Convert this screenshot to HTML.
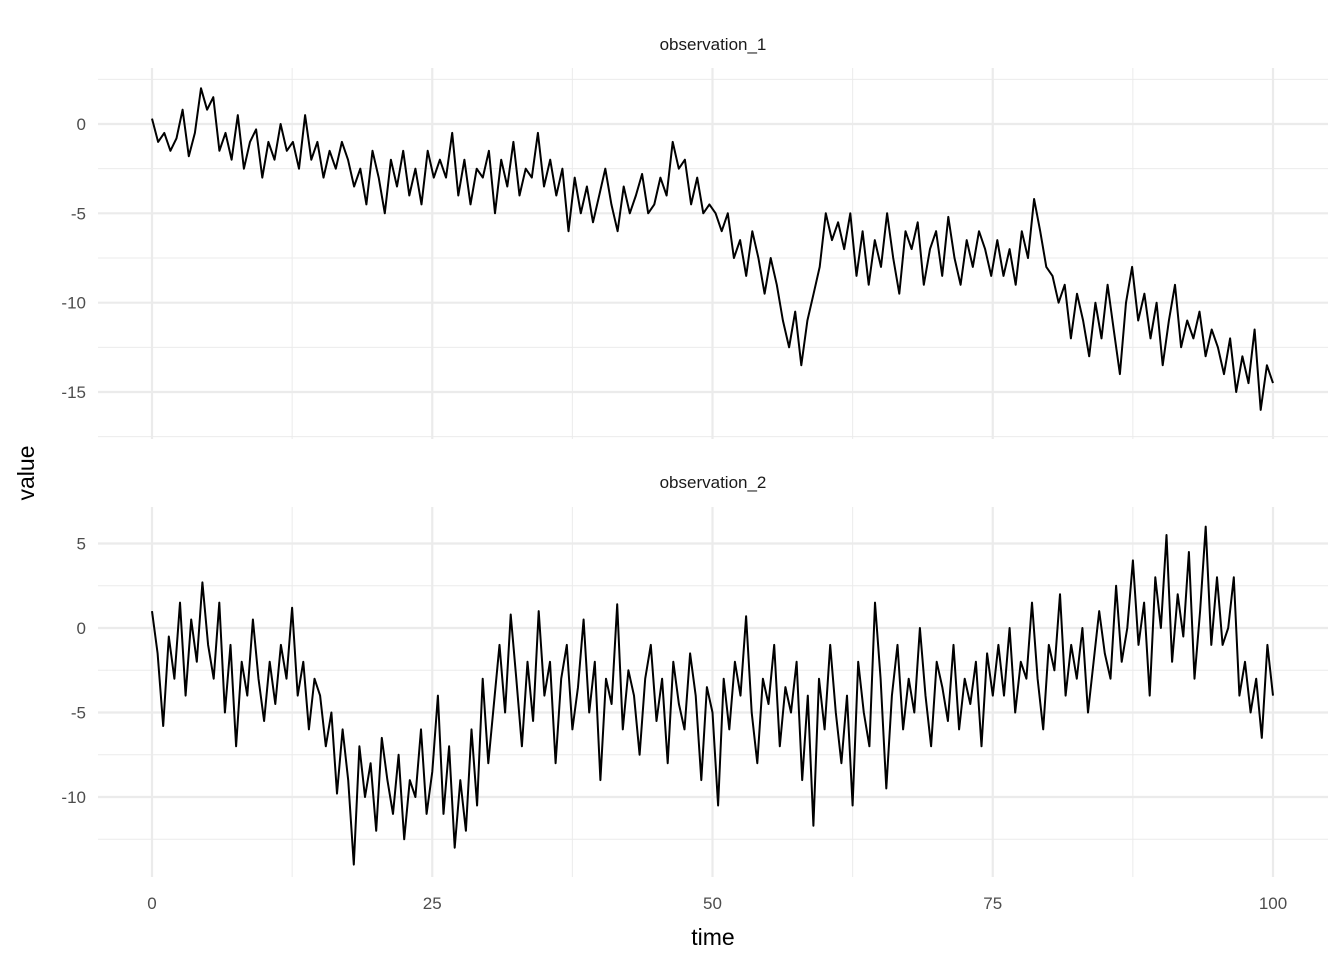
<!DOCTYPE html>
<html><head><meta charset="utf-8"><style>
body{margin:0;background:#fff;}
svg text{font-family:"Liberation Sans",sans-serif;}
</style></head><body>
<svg id="chart" width="1344" height="960"></svg>
<script>
const tickX=[0,25,50,75,100];
const minorX=[12.5,37.5,62.5,87.5];
const ticksY1=[0,-5,-10,-15];
const minorY1=[2.5,-2.5,-7.5,-12.5,-17.5];
const ticksY2=[5,0,-5,-10];
const minorY2=[7.5,2.5,-2.5,-7.5,-12.5];
const series1=[0.3,-1,-0.5,-1.5,-0.8,0.8,-1.8,-0.5,2,0.8,1.5,
-1.5,-0.5,-2,0.5,-2.5,-1,-0.3,-3,-1,-2,0,-1.5,-1,
-2.5,0.5,-2,-1,-3,-1.5,-2.5,-1,-2,
-3.5,-2.5,-4.5,-1.5,-3,-5,-2,-3.5,-1.5,-4,-2.5,-4.5,-1.5,-3,-2,
-3,-0.5,-4,-2,-4.5,-2.5,-3,-1.5,-5,-2,-3.5,-1,-4,-2.5,-3,-0.5,-3.5,-2,-4,
-2.5,-6,-3,
-5,-3.5,-5.5,-4,-2.5,-4.5,-6,-3.5,-5,-4,-2.8,-5,-4.5,-3,-4,
-1,-2.5,-2,
-4.5,-3,-5,-4.5,-5,
-6,-5,-7.5,-6.5,-8.5,-6,-7.5,-9.5,-7.5,
-9,-11,-12.5,-10.5,-13.5,
-11,-9.5,-8,
-5,-6.5,-5.5,
-7,-5,-8.5,-6,-9,-6.5,-8,-5,-7.5,-9.5,-6,-7,-5.5,-9,-7,-6,-8.5,-5.2,-7.5,-9,-6.5,-8,-6,-7,-8.5,
-6.5,-8.5,-7,-9,-6,-7.5,-4.2,-6,-8,
-8.5,-10,-9,-12,-9.5,-11,-13,-10,-12,-9,-11.5,-14,-10,-8,-11,
-9.5,-12,-10,-13.5,-11,-9,-12.5,-11,-12,-10.5,-13,-11.5,-12.5,
-14,-12,-15,-13,-14.5,-11.5,-16,-13.5,-14.5];
const series2=[1,-1.5,-5.8,-0.5,-3,1.5,-4,0.5,-2,2.7,-1,
-3,1.5,-5,-1,-7,-2,-4,0.5,-3,-5.5,-2,-4.5,-1,-3,
1.2,-4,-2,-6,-3,-4,
-7,-5,-9.8,-6,-9,-14,
-7,-10,-8,-12,-6.5,-9,-11,-7.5,-12.5,-9,-10,-6,-11,-8.5,
-4,-11,-7,-13,-9,-12,
-6,-10.5,-3,-8,-4.5,-1,
-5,0.8,-3,-7,-2,-5.5,1,-4,-2,-8,-3,-1,-6,-3.5,0.5,-5,-2,-9,-3,-4.5,1.4,-6,-2.5,-4,-7.5,-3,-1,-5.5,-3,-8,-2,-4.5,-6,-1.5,-4,-9,-3.5,-5,
-10.5,-3,-6,-2,-4,0.7,-5,-8,-3,-4.5,-1,-7,-3.5,-5,-2,-9,-4,-11.7,-3,-6,-1,-5,-8,-4,
-10.5,-2,-5,-7,1.5,-3,-9.5,-4,-1,-6,-3,-5,0,-4,-7,-2,-3.5,-5.5,-1,-6,-3,-4.5,-2,-7,-1.5,-4,
-1,-4,0,-5,-2,-3,1.5,-3,-6,-1,-2.5,2,-4,-1,-3,0,-5,-2,1,-1.5,
-3,2.5,-2,0,4,-1,1.5,-4,3,0,5.5,-2,2,-0.5,4.5,-3,1,6,-1,3,
-1,0,3,-4,-2,-5,-3,-6.5,-1,-4];

const NS='http://www.w3.org/2000/svg';
const svg=document.getElementById('chart');
function mk(tag,attrs,parent){const e=document.createElementNS(NS,tag);for(const k in attrs)e.setAttribute(k,attrs[k]);(parent||svg).appendChild(e);return e;}
const xs=t=>152+t*(1273-152)/100;
const panels=[
 {name:'observation_1',data:series1,top:68,bot:439,y:v=>124-v*(392-124)/15,ticks:ticksY1,minor:minorY1,strip:50},
 {name:'observation_2',data:series2,top:507,bot:877,y:v=>628-v*(797-628)/10,ticks:ticksY2,minor:minorY2,strip:488}
];
panels.forEach((p,pi)=>{
 const g=mk('g',{});
 
 
 p.minor.forEach(v=>{const yy=p.y(v);if(yy>p.top&&yy<p.bot){const l=mk('line',{x1:98,x2:1328,y1:yy,y2:yy,stroke:'#ebebeb','stroke-width':1},g);}});
 minorX.forEach(t=>{const l=mk('line',{x1:xs(t),x2:xs(t),y1:p.top,y2:p.bot,stroke:'#ebebeb','stroke-width':1},g);});
 p.ticks.forEach(v=>{const yy=p.y(v);const l=mk('line',{x1:98,x2:1328,y1:yy,y2:yy,stroke:'#ebebeb','stroke-width':2.2},g);
  const t=mk('text',{x:86,y:yy+6,'text-anchor':'end','font-size':17,fill:'#4d4d4d'},g);t.textContent=v;});
 tickX.forEach(t=>{const l=mk('line',{x1:xs(t),x2:xs(t),y1:p.top,y2:p.bot,stroke:'#ebebeb','stroke-width':2.2},g);});
 const st=mk('text',{x:713,y:p.strip,'text-anchor':'middle','font-size':17,fill:'#1a1a1a'},g);st.textContent=p.name;
 
 
 const n=p.data.length;
 const pts=p.data.map((v,i)=>xs(i*100/(n-1)).toFixed(1)+','+p.y(v).toFixed(1)).join(' ');
 const pl=mk('polyline',{points:pts,fill:'none',stroke:'#000','stroke-width':2,'stroke-linejoin':'round'},g);
 
 
});
tickX.forEach(t=>{const e=mk('text',{x:xs(t),y:909,'text-anchor':'middle','font-size':17,fill:'#4d4d4d'});e.textContent=t;
 
 });
const xt=mk('text',{x:713,y:945,'text-anchor':'middle','font-size':23,fill:'#000'});xt.textContent='time';


const yt=mk('text',{x:0,y:0,transform:'translate(34,473) rotate(-90)','text-anchor':'middle','font-size':23,fill:'#000'});yt.textContent='value';


</script>
</body></html>
